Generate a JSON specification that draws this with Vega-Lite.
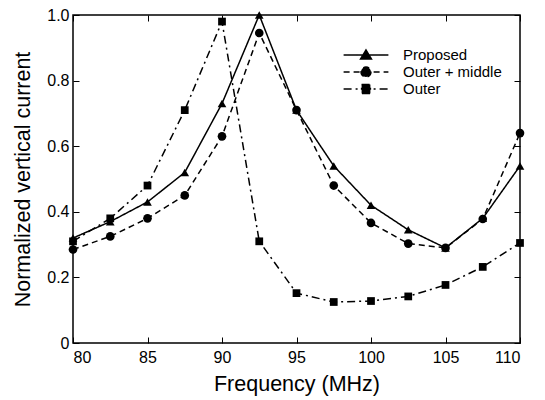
{
  "$schema": "https://vega.github.io/schema/vega-lite/v6.json",
  "width": 447,
  "height": 328,
  "autosize": {"type": "none"},
  "padding": {"left": 73, "top": 15, "right": 25, "bottom": 57},
  "background": "white",
  "config": {
    "font": "Liberation Sans",
    "view": {"stroke": "black", "strokeWidth": 1.5},
    "axis": {
      "grid": false,
      "domain": false,
      "tickColor": "black",
      "tickSize": -6,
      "tickWidth": 1,
      "labelColor": "black",
      "labelFont": "Liberation Sans",
      "labelFontSize": 16,
      "titleColor": "black",
      "titleFont": "Liberation Sans",
      "titleFontSize": 21.5,
      "titleFontWeight": "normal"
    }
  },
  "resolve": {"axis": {"x": "independent", "y": "independent"}},
  "data": {
    "values": [
      {"f": 80, "v": 0.32, "s": "Proposed"},
      {"f": 82.5, "v": 0.37, "s": "Proposed"},
      {"f": 85, "v": 0.43, "s": "Proposed"},
      {"f": 87.5, "v": 0.52, "s": "Proposed"},
      {"f": 90, "v": 0.73, "s": "Proposed"},
      {"f": 92.5, "v": 1.0, "s": "Proposed"},
      {"f": 95, "v": 0.71, "s": "Proposed"},
      {"f": 97.5, "v": 0.54, "s": "Proposed"},
      {"f": 100, "v": 0.42, "s": "Proposed"},
      {"f": 102.5, "v": 0.345, "s": "Proposed"},
      {"f": 105, "v": 0.29, "s": "Proposed"},
      {"f": 107.5, "v": 0.38, "s": "Proposed"},
      {"f": 110, "v": 0.54, "s": "Proposed"},
      {"f": 80, "v": 0.285, "s": "Outer + middle"},
      {"f": 82.5, "v": 0.325, "s": "Outer + middle"},
      {"f": 85, "v": 0.38, "s": "Outer + middle"},
      {"f": 87.5, "v": 0.45, "s": "Outer + middle"},
      {"f": 90, "v": 0.63, "s": "Outer + middle"},
      {"f": 92.5, "v": 0.945, "s": "Outer + middle"},
      {"f": 95, "v": 0.71, "s": "Outer + middle"},
      {"f": 97.5, "v": 0.48, "s": "Outer + middle"},
      {"f": 100, "v": 0.366, "s": "Outer + middle"},
      {"f": 102.5, "v": 0.303, "s": "Outer + middle"},
      {"f": 105, "v": 0.29, "s": "Outer + middle"},
      {"f": 107.5, "v": 0.378, "s": "Outer + middle"},
      {"f": 110, "v": 0.64, "s": "Outer + middle"},
      {"f": 80, "v": 0.31, "s": "Outer"},
      {"f": 82.5, "v": 0.38, "s": "Outer"},
      {"f": 85, "v": 0.48, "s": "Outer"},
      {"f": 87.5, "v": 0.71, "s": "Outer"},
      {"f": 90, "v": 0.98, "s": "Outer"},
      {"f": 92.5, "v": 0.31, "s": "Outer"},
      {"f": 95, "v": 0.152, "s": "Outer"},
      {"f": 97.5, "v": 0.125, "s": "Outer"},
      {"f": 100, "v": 0.128, "s": "Outer"},
      {"f": 102.5, "v": 0.142, "s": "Outer"},
      {"f": 105, "v": 0.177, "s": "Outer"},
      {"f": 107.5, "v": 0.232, "s": "Outer"},
      {"f": 110, "v": 0.305, "s": "Outer"}
    ]
  },
  "layer": [
    {
      "mark": {"type": "line", "color": "black", "strokeWidth": 1.5},
      "encoding": {
        "x": {
          "field": "f", "type": "quantitative",
          "scale": {"domain": [80, 110], "nice": false},
          "axis": {"values": [80, 85, 90, 95, 100, 105, 110], "title": "Frequency (MHz)", "labelPadding": 12, "titlePadding": 8}
        },
        "y": {
          "field": "v", "type": "quantitative",
          "scale": {"domain": [0, 1], "nice": false},
          "axis": {"values": [0, 0.2, 0.4, 0.6, 0.8, 1.0], "title": "Normalized vertical current",
                   "labelExpr": "datum.value === 0 ? '0' : format(datum.value, '.1f')", "labelPadding": 10, "titlePadding": 12}
        },
        "strokeDash": {
          "field": "s", "type": "nominal",
          "scale": {"domain": ["Proposed", "Outer + middle", "Outer"], "range": [[1, 0], [6, 4], [8, 4, 2, 4]]},
          "legend": {
            "title": null,
            "orient": "none",
            "legendX": 284,
            "legendY": 31,
            "symbolSize": 256,
            "symbolStrokeWidth": 1.5,
            "symbolStrokeColor": "black",
            "symbolFillColor": "black",
            "labelFontSize": 15,
            "labelColor": "black",
            "labelOffset": 28,
            "rowPadding": 0,
            "encode": {
              "symbols": {
                "update": {
                  "shape": {"signal": "datum.value === 'Proposed' ? 'M-2.8,0H2.8M0,-0.62L0.68,0.5L-0.68,0.5Z' : datum.value === 'Outer' ? 'M-2.8,0H2.8M-0.55,-0.55H0.55V0.55H-0.55Z' : 'M-2.8,0H2.8M0.62,0A0.62,0.62 0 1,1 -0.62,0A0.62,0.62 0 1,1 0.62,0Z'"},
                  "fill": {"value": "black"},
                  "stroke": {"value": "black"}
                }
              }
            }
          }
        }
      }
    },
    {
      "transform": [{"filter": {"field": "s", "equal": "Proposed"}}],
      "mark": {"type": "point", "filled": true, "color": "black", "opacity": 1, "size": 75, "shape": "triangle-up"},
      "encoding": {
        "x": {"field": "f", "type": "quantitative", "axis": {"orient": "top", "values": [80, 85, 90, 95, 100, 105, 110], "labels": false, "title": null}},
        "y": {"field": "v", "type": "quantitative", "axis": {"orient": "right", "values": [0, 0.2, 0.4, 0.6, 0.8, 1.0], "labels": false, "title": null}}
      }
    },
    {
      "transform": [{"filter": {"field": "s", "equal": "Outer + middle"}}],
      "mark": {"type": "point", "filled": true, "color": "black", "opacity": 1, "size": 75, "shape": "circle"},
      "encoding": {
        "x": {"field": "f", "type": "quantitative", "axis": null},
        "y": {"field": "v", "type": "quantitative", "axis": null}
      }
    },
    {
      "transform": [{"filter": {"field": "s", "equal": "Outer"}}],
      "mark": {"type": "point", "filled": true, "color": "black", "opacity": 1, "size": 60, "shape": "square"},
      "encoding": {
        "x": {"field": "f", "type": "quantitative", "axis": null},
        "y": {"field": "v", "type": "quantitative", "axis": null}
      }
    }
  ]
}
